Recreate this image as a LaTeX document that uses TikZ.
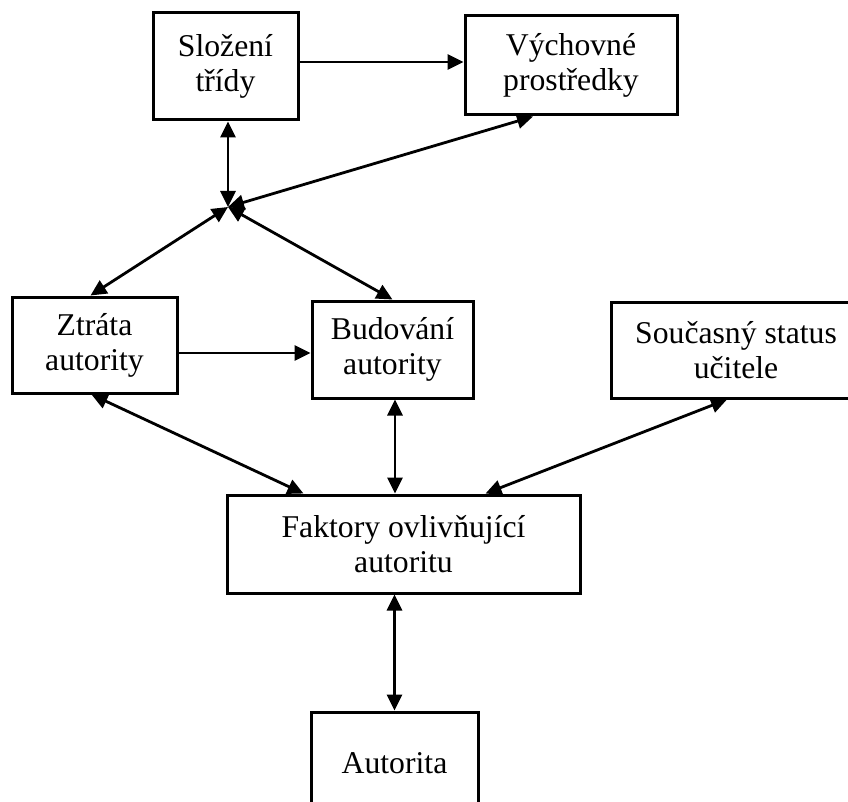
\documentclass[tikz,border=0pt]{standalone}
\usepackage{fontspec}
\setmainfont{Liberation Serif}
\usetikzlibrary{arrows.meta}
\newcommand\diagfs{\fontsize{31.7}{35}\selectfont}
\tikzset{
  box/.style={draw, line width=3pt, inner sep=0pt, align=center, font=\diagfs},
  arr/.style={line width=2.8pt, -{Triangle[length=16pt,width=15pt]}},
  darr/.style={line width=2.8pt, {Triangle[length=16pt,width=15pt]}-{Triangle[length=16pt,width=15pt]}}
}
\begin{document}
\begin{tikzpicture}[x=1pt,y=-1pt]
\useasboundingbox (0,0) rectangle (848,802);
\clip (0,0) rectangle (848,802);
\fill[white] (0,0) rectangle (848,802);

\node[box, minimum width=145, minimum height=107] (slozeni) at (225.5,66.5) {Složení\\třídy};
\node[box, minimum width=212, minimum height=99] (vychovne) at (571,65.5) {Výchovné\\prostředky};
\node[box, minimum width=165, minimum height=96] (ztrata) at (94.5,345) {Ztráta\\autority};
\node[box, minimum width=161, minimum height=97] (budovani) at (392.5,349.5) {Budování\\autority};
\node[box, minimum width=250, minimum height=96] (soucasny) at (736,350) {Současný status\\učitele};
\node[box, minimum width=353, minimum height=98] (faktory) at (403.5,544) {Faktory ovlivňující\\autoritu};
\node[box, minimum width=167, minimum height=102] (autorita) at (394.5,763) {Autorita};

\coordinate (J) at (228,207);

\draw[arr] ([yshift=4.5pt]slozeni.east) -- ([yshift=4.5pt]slozeni.east -| vychovne.west);
\draw[darr] (J |- slozeni.south) -- (J);
\draw[darr] (J) -- ([xshift=-38pt]vychovne.south);
\draw[darr] (J) -- ([xshift=-4pt]ztrata.north);
\draw[darr] (J) -- (budovani.north);
\draw[arr] ([yshift=-8pt]ztrata.east) -- ([yshift=-8pt]ztrata.east -| budovani.west);
\draw[darr] ([xshift=-3pt]ztrata.south) -- ([xshift=-100pt]faktory.north);
\draw[darr] ([xshift=2.5pt]budovani.south) -- ([xshift=2.5pt]budovani.south |- faktory.north);
\draw[darr] ([xshift=-9pt]soucasny.south) -- ([xshift=82pt]faktory.north);
\draw[darr] (autorita.north |- faktory.south) -- (autorita.north);
\end{tikzpicture}
\end{document}
